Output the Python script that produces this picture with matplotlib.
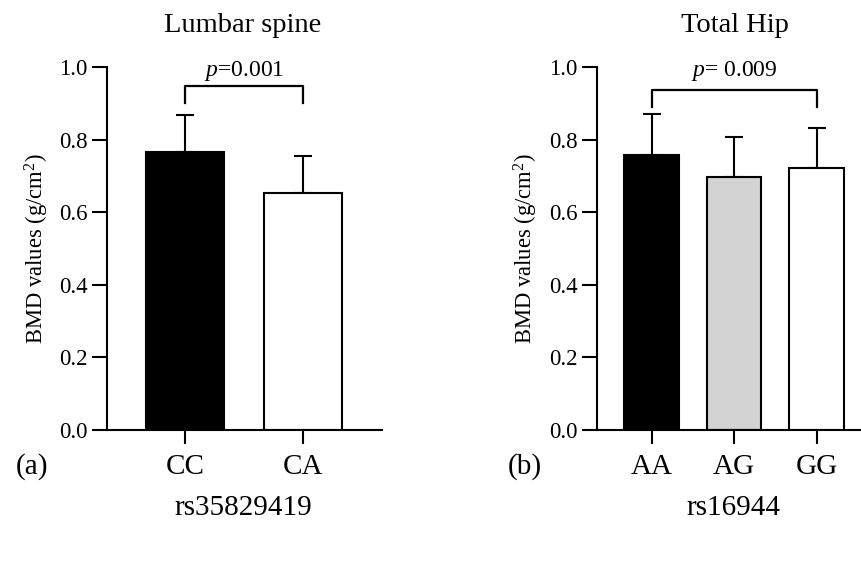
import matplotlib
matplotlib.use("Agg")
import matplotlib.pyplot as plt
import numpy as np

plt.rcParams["font.family"] = ["Liberation Serif", "DejaVu Serif"]
plt.rcParams["mathtext.fontset"] = "custom"
plt.rcParams["mathtext.rm"] = "Liberation Serif"
plt.rcParams["mathtext.it"] = "Liberation Serif:italic"

# ---- data -------------------------------------------------------------------
ls_geno = ["CC", "CA"]
ls_mean = [0.766, 0.654]
ls_sd = [0.102, 0.100]
ls_colors = ["black", "white"]
ls_p = "0.001"

hip_geno = ["AA", "AG", "GG"]
hip_mean = [0.758, 0.696, 0.722]
hip_sd = [0.112, 0.110, 0.111]
hip_colors = ["black", "#d3d3d3", "white"]
hip_p = "0.009"

W, H = 861, 567
fig = plt.figure(figsize=(W / 100, H / 100), dpi=100)


def px(x, y):
    return x / W, 1 - y / H


def panel(rect, names, means, sds, colors, xlim, bracket, p_txt, p_gap):
    ax = fig.add_axes(rect)
    x = np.arange(len(names))
    ax.bar(x, means, width=0.66, color=colors, edgecolor="black",
           linewidth=1.5, zorder=2)
    ax.errorbar(x, means, yerr=[np.zeros(len(sds)), sds], fmt="none",
                ecolor="black", elinewidth=1.5, capsize=6.8, capthick=1.5,
                zorder=1)
    ax.set_xlim(*xlim)
    ax.set_ylim(0, 1.0)
    ax.set_yticks(np.arange(0, 1.01, 0.2))
    ax.set_yticklabels([f"{v:.1f}" for v in np.arange(0, 1.01, 0.2)])
    ax.set_xticks(x)
    ax.set_xticklabels(names, fontsize=21)
    ax.tick_params(axis="y", direction="out", length=10.5, width=1.5,
                   labelsize=16.5, pad=3.5)
    ax.tick_params(axis="x", direction="out", length=10, width=1.5, pad=7)
    for s in ("top", "right"):
        ax.spines[s].set_visible(False)
    for s in ("left", "bottom"):
        ax.spines[s].set_linewidth(1.5)
    ax.set_ylabel(r"BMD values (g/cm$^{2}$)", fontsize=16.3, labelpad=6)
    # significance bracket
    i0, i1, yb, yleg, yt = bracket
    ax.plot([x[i0], x[i0], x[i1], x[i1]], [yleg, yb, yb, yleg],
            color="black", lw=1.6, clip_on=False)
    ax.text((x[i0] + x[i1]) / 2, yt, r"$\it{p}$=" + p_gap + p_txt,
            ha="center", va="center", fontsize=17)
    return ax


panel([107 / W, 1 - 430 / H, 275 / W, 363 / H], ls_geno, ls_mean, ls_sd,
      ls_colors, (-0.661, 1.669), (0, 1, 0.948, 0.900, 0.99), ls_p, "")
panel([596.7 / W, 1 - 430 / H, 264.3 / W, 363 / H], hip_geno, hip_mean,
      hip_sd, hip_colors, (-0.667, 2.537), (0, 2, 0.938, 0.889, 0.99),
      hip_p, " ")

fig.text(*px(243, 25), "Lumbar spine", ha="center", va="center", fontsize=20.5)
fig.text(*px(735, 25), "Total Hip", ha="center", va="center", fontsize=20.5)
fig.text(*px(32, 467), "(a)", ha="center", va="center", fontsize=21)
fig.text(*px(525, 467), "(b)", ha="center", va="center", fontsize=21)
fig.text(*px(243, 508), "rs35829419", ha="center", va="center", fontsize=21)
fig.text(*px(733, 508), "rs16944", ha="center", va="center", fontsize=21)

fig.savefig("out.png", dpi=100)
